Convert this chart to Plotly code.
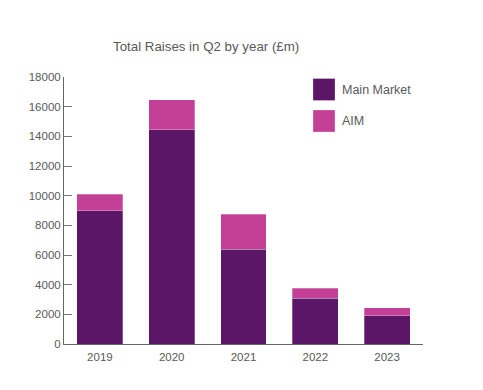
import plotly.graph_objects as go

years = ["2019", "2020", "2021", "2022", "2023"]
main_market = [9000, 14450, 6400, 3100, 1900]
aim = [1100, 2000, 2350, 650, 550]
series_names = ["Main Market", "AIM"]
colors = ["#5C1668", "#C43F96"]
y_ticks = [0, 2000, 4000, 6000, 8000, 10000, 12000, 14000, 16000, 18000]
y_tick_labels = ["0", "2000", "4000", "6000", "8000", "10000", "12000", "14000", "16000", "18000"]
title_text = "Total Raises in Q2 by year (£m)"

W, H = 483, 390
OFF = 8  # page body margin
# desired page-pixel positions of plot area
PL, PR, PT, PB = 64, 423, 77, 344
L = PL - OFF
T = PT - OFF
R = W - (PR - OFF)
B = H - (PB - OFF)
pw = W - L - R
ph = H - T - B


def px_x(x):
    return (x - OFF - L) / pw


def px_y(y):
    return (H - (y - OFF) - B) / ph


fig = go.Figure()
for name, vals, col in zip(series_names, [main_market, aim], colors):
    fig.add_trace(go.Bar(
        x=years, y=vals, name=name, showlegend=False,
        marker=dict(color=col, line=dict(color="rgba(255,255,255,0.35)", width=0.8)),
    ))

font_family = "Liberation Sans, Arial, sans-serif"
txt_col = "#595959"
fig.update_layout(
    width=W, height=H,
    margin=dict(l=L, r=R, t=T, b=B, autoexpand=False),
    barmode="stack", bargap=0.36,
    plot_bgcolor="white", paper_bgcolor="white",
    font=dict(family=font_family, color=txt_col, size=11.5),
    xaxis=dict(showline=True, linecolor="#666666", linewidth=1, ticks="",
               showgrid=False, zeroline=False, range=[-0.5, 4.5], automargin=False,
               ticklabelstandoff=2,
               tickfont=dict(size=11.5, color=txt_col)),
    yaxis=dict(showline=True, linecolor="#666666", linewidth=1, ticks="inside",
               ticklen=8, tickcolor="#777777", tickvals=y_ticks, ticktext=y_tick_labels,
               range=[0, 18000], showgrid=False, zeroline=False, automargin=False,
               tickfont=dict(size=11.5, color=txt_col)),
)

# Title
fig.add_annotation(text=title_text, xref="paper", yref="paper",
                   x=px_x(205.5), y=px_y(47),
                   xanchor="center", yanchor="middle", showarrow=False,
                   font=dict(size=13.3, color=txt_col, family=font_family))

# Custom legend
leg_y = [89.5, 121]
for name, col, cy in zip(series_names, colors, leg_y):
    fig.add_shape(type="rect", xref="paper", yref="paper",
                  x0=px_x(313), x1=px_x(335), y0=px_y(cy + 11), y1=px_y(cy - 11),
                  fillcolor=col, line=dict(color="rgba(255,255,255,0.35)", width=0.8))
    fig.add_annotation(text=name, xref="paper", yref="paper",
                       x=px_x(340), y=px_y(cy),
                       xanchor="left", yanchor="middle", showarrow=False,
                       font=dict(size=12.5, color=txt_col, family=font_family))

fig.write_html("out.html")
